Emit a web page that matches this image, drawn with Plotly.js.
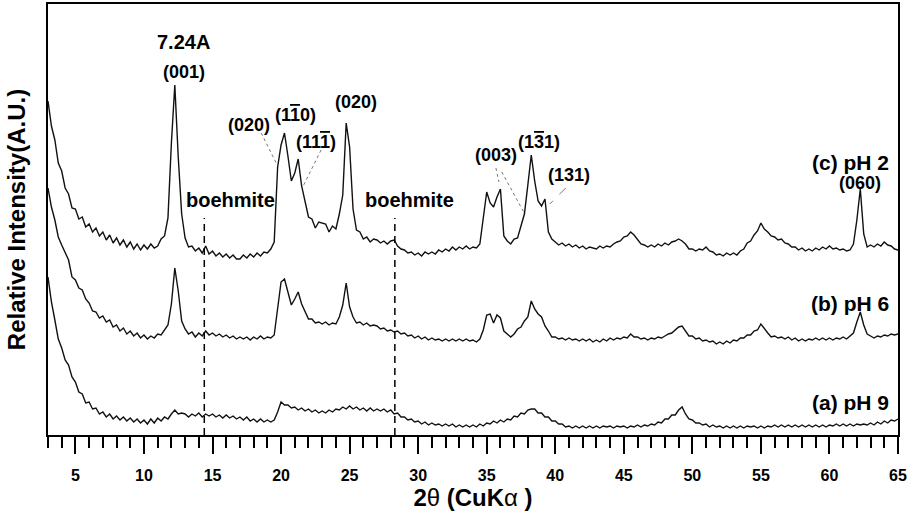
<!DOCTYPE html>
<html>
<head>
<meta charset="utf-8">
<script src="https://cdn.plot.ly/plotly-3.0.1.min.js"></script>
<style>html,body{margin:0;padding:0;background:#fff;}#chart{width:911px;height:514px;}</style>
</head>
<body>
<div id="chart"></div>
<script>
// 2θ scan positions (degrees)
const twoTheta = [
3,3.25,3.5,3.75,4,4.25,4.5,4.75,
5,5.25,5.5,5.75,6,6.25,6.5,6.75,
7,7.25,7.5,7.75,8,8.25,8.5,8.75,
9,9.25,9.5,9.75,10,10.25,10.5,10.75,
11,11.25,11.5,11.75,12,12.25,12.5,12.75,
13,13.25,13.5,13.75,14,14.25,14.5,14.75,
15,15.25,15.5,15.75,16,16.25,16.5,16.75,
17,17.25,17.5,17.75,18,18.25,18.5,18.75,
19,19.25,19.5,19.75,20,20.25,20.5,20.75,
21,21.25,21.5,21.75,22,22.25,22.5,22.75,
23,23.25,23.5,23.75,24,24.25,24.5,24.75,
25,25.25,25.5,25.75,26,26.25,26.5,26.75,
27,27.25,27.5,27.75,28,28.25,28.5,28.75,
29,29.25,29.5,29.75,30,30.25,30.5,30.75,
31,31.25,31.5,31.75,32,32.25,32.5,32.75,
33,33.25,33.5,33.75,34,34.25,34.5,34.75,
35,35.25,35.5,35.75,36,36.25,36.5,36.75,
37,37.25,37.5,37.75,38,38.25,38.5,38.75,
39,39.25,39.5,39.75,40,40.25,40.5,40.75,
41,41.25,41.5,41.75,42,42.25,42.5,42.75,
43,43.25,43.5,43.75,44,44.25,44.5,44.75,
45,45.25,45.5,45.75,46,46.25,46.5,46.75,
47,47.25,47.5,47.75,48,48.25,48.5,48.75,
49,49.25,49.5,49.75,50,50.25,50.5,50.75,
51,51.25,51.5,51.75,52,52.25,52.5,52.75,
53,53.25,53.5,53.75,54,54.25,54.5,54.75,
55,55.25,55.5,55.75,56,56.25,56.5,56.75,
57,57.25,57.5,57.75,58,58.25,58.5,58.75,
59,59.25,59.5,59.75,60,60.25,60.5,60.75,
61,61.25,61.5,61.75,62,62.25,62.5,62.75,
63,63.25,63.5,63.75,64,64.25,64.5,64.75,
65];

// (c) pH 2 — stacked intensity (A.U.)
const intensityPH2 = [
334,309,295,272,264,247,241,227,
226,216,218,208,211,203,207,199,
203,195,200,192,197,190,195,188,
193,186,191,185,190,186,191,187,
189,196,199,217,292,350,278,221,
197,188,189,184,187,182,189,181,
184,179,182,178,181,177,180,176,
176,180,177,181,178,182,179,183,
182,186,193,268,290,302,279,254,
262,276,249,235,218,216,207,213,
212,211,203,209,206,221,240,312,
288,226,205,203,196,198,193,196,
195,192,194,191,194,195,189,186,
185,182,183,180,182,179,183,181,
183,181,185,183,186,184,188,185,
188,186,189,186,188,187,191,220,
243,232,228,238,246,199,194,191,
196,197,208,221,250,280,254,234,
229,236,203,196,193,190,192,189,
191,188,190,187,189,186,188,187,
186,189,187,189,188,191,193,194,
198,199,203,200,196,191,190,188,
190,188,191,189,192,190,193,194,
196,194,191,186,186,184,186,185,
188,184,183,180,181,179,182,180,
182,180,184,186,192,194,200,204,
212,206,203,199,198,195,196,192,
191,188,188,185,187,184,186,184,
187,185,188,186,189,186,187,185,
186,184,185,191,215,246,201,188,
190,188,191,189,193,190,189,186,
185];

// (b) pH 6
const intensityPH6 = [
247,228,215,198,190,182,175,158,
155,147,145,136,132,124,123,117,
119,113,115,108,110,104,107,101,
104,99,102,97,100,96,99,97,
101,100,105,110,131,167,144,114,
106,101,103,98,102,99,104,100,
102,99,101,98,100,97,99,96,
98,96,98,95,98,96,99,96,
98,97,100,126,153,156,142,130,
136,143,131,123,116,116,112,113,
111,113,110,112,111,118,130,152,
128,118,112,113,110,112,109,110,
109,106,107,104,105,103,104,101,
102,99,100,97,99,96,98,95,
97,95,96,94,96,94,96,94,
96,94,96,94,95,93,96,105,
120,121,112,120,117,104,101,98,
101,106,108,114,118,134,126,121,
118,109,104,98,98,96,97,95,
97,95,96,94,96,94,96,93,
95,93,96,94,97,95,97,96,
98,97,101,98,98,96,97,95,
97,96,98,97,99,101,102,105,
108,109,104,99,99,96,97,94,
95,93,94,91,93,91,94,92,
95,94,97,97,100,100,104,105,
111,106,102,98,99,97,98,96,
98,95,97,94,96,94,96,95,
97,95,97,95,97,95,97,96,
98,96,99,102,113,123,110,101,
99,97,99,98,100,99,101,100,
101];

// (a) pH 9
const intensityPH9 = [
158,133,115,96,87,75,70,58,
53,43,41,32,33,26,27,21,
23,18,21,16,19,15,18,14,
17,13,16,12,15,11,16,12,
17,14,18,16,21,25,21,22,
21,18,21,19,22,18,21,19,
21,18,20,17,20,17,19,16,
18,15,18,14,16,13,16,13,
15,13,15,23,33,30,30,27,
28,25,27,24,26,23,25,22,
24,22,25,23,26,25,28,26,
29,26,28,25,27,24,27,24,
26,24,26,23,25,21,22,18,
18,15,16,13,14,11,13,10,
12,10,11,9,11,9,11,8,
10,8,10,8,10,8,11,9,
12,11,14,12,15,13,16,15,
19,18,22,21,25,26,26,22,
22,18,18,14,14,11,11,8,
9,7,9,7,9,7,9,7,
9,7,9,8,9,7,9,8,
9,7,9,8,10,8,10,9,
11,10,13,12,16,16,20,20,
25,28,21,16,15,12,12,10,
11,8,10,8,9,7,9,7,
9,7,9,7,9,8,9,7,
9,7,9,8,10,8,10,8,
10,8,10,8,10,8,10,8,
10,8,10,8,10,9,11,9,
11,9,11,9,11,10,11,10,
12,10,13,11,14,12,15,14,
16];

const seriesNames = ['(a) pH 9', '(b) pH 6', '(c) pH 2'];
const boehmitePositions = [14.4, 28.3];
const boehmiteLabels = ['boehmite', 'boehmite'];
const majorTicks = [5,10,15,20,25,30,35,40,45,50,55,60,65];
const majorTickText = ['5','10','15','20','25','30','35','40','45','50','55','60','65'];

const lineColor = '#111';
const traces = [
  {x: twoTheta, y: intensityPH9, name: seriesNames[0]},
  {x: twoTheta, y: intensityPH6, name: seriesNames[1]},
  {x: twoTheta, y: intensityPH2, name: seriesNames[2]}
].map(t => Object.assign(t, {type: 'scatter', mode: 'lines', line: {color: lineColor, width: 1.4}, hoverinfo: 'x+y+name'}));

// boehmite reference lines as dashed traces
boehmitePositions.forEach(p => {
  traces.push({x: [p, p], y: [0, 217], type: 'scatter', mode: 'lines',
    line: {color: '#000', width: 1.5, dash: '7px,5px'}, hoverinfo: 'skip', showlegend: false});
});

const bold = s => '<b>' + s + '</b>';
const ov = d => '<span style="text-decoration:overline">' + d + '</span>';
const F = 'Liberation Sans, Arial, Helvetica, sans-serif';

function ann(text, x, y, size, opts) {
  return Object.assign({text: bold(text), x: x, y: y, xref: 'x', yref: 'y', showarrow: false,
    font: {family: F, size: size, color: '#000'}, xanchor: 'center', yanchor: 'middle'}, opts || {});
}

const annotations = [
  ann('7.24A', 12.87, 393, 20),
  ann('(001)', 12.94, 363, 18),
  ann('(020)', 17.68, 310, 18),
  ann('(1' + ov('1') + '0)', 21.03, 320, 18),
  ann('(11' + ov('1') + ')', 22.56, 293, 18),
  ann('(020)', 25.47, 333, 18),
  ann(boehmiteLabels[0], 16.29, 235, 20),
  ann(boehmiteLabels[1], 29.4, 235, 20),
  ann('(003)', 35.67, 280, 18),
  ann('(1' + ov('3') + '1)', 38.8, 293, 18),
  ann('(131)', 40.98, 260, 18),
  ann('(060)', 62.25, 252, 18),
  ann(seriesNames[2], 64.51, 273, 21, {xanchor: 'right'}),
  ann(seriesNames[1], 64.51, 132, 21, {xanchor: 'right'}),
  ann(seriesNames[0], 64.51, 33, 21, {xanchor: 'right'})
];

const leader = (x0, y0, x1, y1, dash) => ({type: 'line', xref: 'x', yref: 'y', x0: x0, y0: y0, x1: x1, y1: y1,
  line: {color: '#777', width: 1, dash: dash || 'dot'}});

const shapes = [
  leader(18.55, 302, 19.64, 272),
  leader(22.92, 285, 21.54, 247),
  leader(35.67, 267, 35.89, 253),
  leader(36.1, 263, 37.78, 221),
  leader(40.76, 247, 39.6, 231, 'dash')
];

const layout = {
  width: 911, height: 514,
  margin: {l: 48, r: 13, t: 4, b: 79, pad: 0},
  paper_bgcolor: '#fff', plot_bgcolor: '#fff',
  showlegend: false,
  font: {family: F, color: '#000'},
  xaxis: {
    range: [3, 65], showgrid: false, zeroline: false,
    showline: true, mirror: true, linecolor: '#000', linewidth: 2,
    ticks: 'outside', ticklen: 17, tickwidth: 2, tickcolor: '#000',
    tickmode: 'array', tickvals: majorTicks, ticktext: majorTickText.map(bold),
    tickfont: {family: F, size: 16, color: '#000'},
    ticklabelstandoff: 8,
    minor: {tickmode: 'linear', tick0: 3, dtick: 1, ticks: 'outside', ticklen: 11, tickwidth: 2, tickcolor: '#000', showgrid: false},
    title: {text: '<b>2</b>θ<b> (CuK</b>α<b> )</b>', font: {family: F, size: 24, color: '#000'}, standoff: 2}
  },
  yaxis: {
    range: [0, 431], showgrid: false, zeroline: false,
    showline: true, mirror: true, linecolor: '#000', linewidth: 2,
    ticks: '', showticklabels: false,
    title: {text: '<b>Relative Intensity(A.U.)</b>', font: {family: F, size: 24, color: '#000'}, standoff: 14}
  },
  annotations: annotations,
  shapes: shapes
};

Plotly.newPlot('chart', traces, layout, {displayModeBar: false, staticPlot: true});
</script>
</body>
</html>
